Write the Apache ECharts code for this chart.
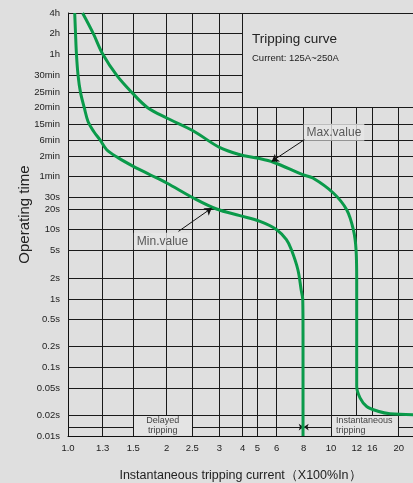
<!DOCTYPE html>
<html><head><meta charset="utf-8">
<script src="https://cdn.jsdelivr.net/npm/echarts@6/dist/echarts.min.js"></script>
<style>html,body{margin:0;padding:0;background:#dfdfdf}#c{width:413px;height:483px}</style>
</head><body><div id="c"></div>
<script>
// ---- axis scale definitions (value -> stop on the printed grid) ----
const xTickLabels = ['1.0','1.3','1.5','2','2.5','3','4','5','6','8','10','12','16','20'];
const xTickValues = [1.0,1.3,1.5,2,2.5,3,4,5,6,8,10,12,16,20];
const xTickStops  = [0,34.7,65.3,98.7,124.3,151.3,174.7,189.3,208.7,235.7,263,288.7,304.3,330.7];
const xStopMax = 345;

const yTickLabels = ['0.01s','0.02s','0.05s','0.1s','0.2s','0.5s','1s','2s','5s','10s','20s','30s','1min','2min','6min','15min','20min','25min','30min','1h','2h','4h'];
const yTickValues = [0.01,0.02,0.05,0.1,0.2,0.5,1,2,5,10,20,30,60,120,360,900,1200,1500,1800,3600,7200,14400];
const yTickStops  = [0,20.6,48,68.6,89.3,117,137,158,185.6,206.3,227,238.6,259.6,279.6,295.6,312,328.3,343.6,360.6,382,402.6,423];
const yStopMax = 423;

// ---- curves (current multiple, operating time in s) ----
const minCurrent = [1.058,1.065,1.073,1.087,1.108,1.14,1.174,1.224,1.276,1.326,1.40,1.5,1.75,2.0,2.52,2.95,3.88,5.14,6.0,6.72,7.09,7.57,7.81,7.93,7.95,7.95];
const minTime    = [14400,7200,3600,1800,1500,1205,937,585,374,190,115,85,63.6,48.3,29.4,20,16,13.2,10,7.15,5.1,2.63,1.36,0.98,0.3,0.01];
const maxCurrent = [1.126,1.218,1.3,1.392,1.49,1.71,2.0,2.513,3.03,3.885,4.96,5.825,7.93,8.67,10.18,11.22,11.74,11.95,12.0,12.0,12.85,14.56,16.86,18.68,22.2];
const maxTime    = [14400,7200,3600,1800,1500,1205,1001,618,218,135,113.5,98,63.6,56.9,34.7,19.5,10,5.1,1.9,0.053,0.036,0.027,0.023,0.0211,0.0205];

// ---- annotations ----
const annotLabels    = ['Max.value','Min.value'];
const annotLabelAt   = [[10.23,569],[1.937,6.8]];
const annotArrowFrom = [[8.05,374],[2.23,9.45]];
const annotArrowTo   = [[5.74,100.9],[2.86,20.7]];
const bandTime = 0.0135;        // delayed / instantaneous band line
const instCurrent = 8;          // instantaneous boundary marker

function interp(v, vals, stops, useLog){
  const f = useLog ? Math.log : (a=>a);
  let i = 0;
  while (i < vals.length - 2 && v > vals[i+1]) i++;
  const t = (f(v) - f(vals[i])) / (f(vals[i+1]) - f(vals[i]));
  return stops[i] + t * (stops[i+1] - stops[i]);
}
const X = v => interp(v, xTickValues, xTickStops, false);
const Y = v => interp(v, yTickValues, yTickStops, true);
const P = (c, t) => [X(c), Y(t)];

// ---- grid lines ----
const gridSegs = [];
xTickValues.forEach((v, i) => {
  if (i === 0) return;
  const lab = xTickLabels[i];
  const bottom = (lab === '2' || lab === '12' || lab === '16') ? Y(0.02) : 0;
  const top = v >= 5 ? Y(1200) : yStopMax;
  gridSegs.push({coords: [[X(v), bottom], [X(v), top]]});
});
yTickValues.forEach((v, j) => {
  if (j === 0) return;
  const right = [7200,3600,1800,1500].includes(v) ? X(4) : xStopMax;
  gridSegs.push({coords: [[0, Y(v)], [right, Y(v)]]});
});
gridSegs.push({coords: [[0, Y(bandTime)], [X(1.5), Y(bandTime)]]});
gridSegs.push({coords: [[X(20), Y(bandTime)], [xStopMax, Y(bandTime)]]});
const arrowSegs = [
  {coords: [[X(2.5), Y(bandTime)], [X(instCurrent), Y(bandTime)]]},
  {coords: [[X(10), Y(bandTime)], [X(instCurrent), Y(bandTime)]]}
];
const annotArrows = annotArrowFrom.map((f, k) => ({coords: [P(f[0], f[1]), P(annotArrowTo[k][0], annotArrowTo[k][1])]}));

const FONT = '"Liberation Sans", Arial, sans-serif';
const chart = echarts.init(document.getElementById('c'), null, {renderer: 'canvas'});
chart.setOption({
  animation: false,
  backgroundColor: '#dfdfdf',
  textStyle: {fontFamily: FONT},
  title: {
    text: 'Tripping curve', subtext: 'Current: 125A~250A',
    left: 247, top: 27, itemGap: 7,
    textStyle: {fontFamily: FONT, fontSize: 13.5, fontWeight: 'normal', color: '#222'},
    subtextStyle: {fontFamily: FONT, fontSize: 9.5, color: '#222'}
  },
  grid: {left: 68, top: 13, width: 345, height: 423, containLabel: false, outerBoundsMode: 'none'},
  xAxis: {
    type: 'value', min: 0, max: xStopMax,
    axisLine: {show: true, lineStyle: {color: '#111', width: 1}},
    axisTick: {show: false}, splitLine: {show: false},
    axisLabel: {
      customValues: xTickStops, margin: 7, fontSize: 9.5, color: '#222', fontFamily: FONT, hideOverlap: false,
      formatter: v => { const k = xTickStops.findIndex(s => Math.abs(s - v) < 0.01); return k >= 0 ? xTickLabels[k] : ''; }
    },
    name: 'Instantaneous tripping current（X100%In）', nameLocation: 'middle', nameGap: 33, nameMoveOverlap: false,
    nameTextStyle: {fontSize: 12.5, color: '#222', fontFamily: FONT}
  },
  yAxis: {
    type: 'value', min: 0, max: yStopMax,
    axisLine: {show: true, lineStyle: {color: '#111', width: 1}},
    axisTick: {show: false}, splitLine: {show: false},
    axisLabel: {
      customValues: yTickStops, margin: 8, fontSize: 9.5, color: '#222', fontFamily: FONT, hideOverlap: false,
      formatter: v => { const k = yTickStops.findIndex(s => Math.abs(s - v) < 0.01); return k >= 0 ? yTickLabels[k] : ''; }
    },
    name: 'Operating time', nameLocation: 'middle', nameGap: 36, nameRotate: 90, nameMoveOverlap: false,
    nameTextStyle: {fontSize: 15, color: '#222', fontFamily: FONT, padding: [0, 0, 0, 20]}
  },
  series: [
    {
      type: 'line', data: [[0, 0]], symbol: 'none', lineStyle: {opacity: 0}, silent: true, z: 1,
      markArea: {
        silent: true,
        itemStyle: {color: '#e4e4e4'},
        label: {fontSize: 9, color: '#444', fontFamily: FONT, lineHeight: 10},
        data: [
          [{coord: [X(1.5) + 0.5, 0.5], name: 'Delayed\ntripping', label: {position: 'inside'}}, {coord: [X(2.5) - 0.5, Y(0.02) - 0.5]}],
          [{coord: [X(10), 0.5], name: 'Instantaneous\ntripping', label: {position: 'insideLeft', distance: 5}}, {coord: [X(20) - 1.5, Y(0.02) - 0.5]}]
        ]
      }
    },
    {
      type: 'lines', coordinateSystem: 'cartesian2d', silent: true, z: 2,
      lineStyle: {color: '#1a1a1a', width: 1, opacity: 1, curveness: 0},
      data: gridSegs
    },
    {
      type: 'lines', coordinateSystem: 'cartesian2d', silent: true, z: 2,
      symbol: ['none', 'arrow'], symbolSize: 5,
      lineStyle: {color: '#1a1a1a', width: 1, opacity: 1, curveness: 0},
      data: arrowSegs
    },
    {
      type: 'line', name: 'Min', z: 5, symbol: 'none', smooth: 0.35,
      lineStyle: {color: '#0a9a4a', width: 3}, silent: true,
      data: minCurrent.map((c, i) => P(c, minTime[i]))
    },
    {
      type: 'line', name: 'Max', z: 5, symbol: 'none', smooth: 0.35,
      lineStyle: {color: '#0a9a4a', width: 3}, silent: true,
      data: maxCurrent.map((c, i) => P(c, maxTime[i]))
    },
    {
      type: 'scatter', z: 6, symbolSize: 0, silent: true,
      data: annotLabelAt.map((a, k) => ({value: P(a[0], a[1]), name: annotLabels[k]})),
      label: {show: true, position: 'inside', formatter: p => p.name, fontSize: 12, color: '#333', fontFamily: FONT,
              backgroundColor: '#e6e6e6', padding: [3, 3, 2, 3]}
    },
    {
      type: 'lines', coordinateSystem: 'cartesian2d', silent: true, z: 7,
      symbol: ['none', 'arrow'], symbolSize: 7,
      lineStyle: {color: '#111', width: 1, opacity: 1, curveness: 0},
      data: annotArrows
    }
  ]
});
</script></body></html>
